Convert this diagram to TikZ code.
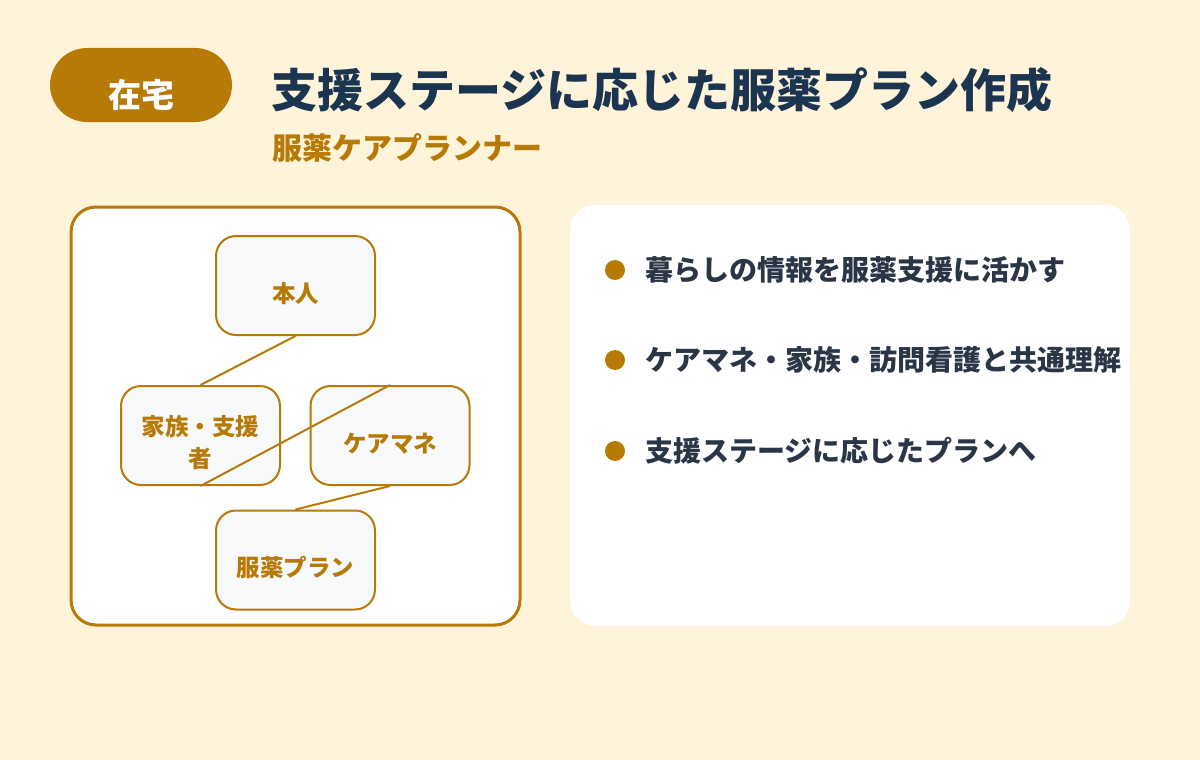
\documentclass[tikz,border=0pt]{standalone}
\usepackage{fontspec}
\setmainfont{Noto Sans CJK JP}
\usepackage{tikz}
\usetikzlibrary{positioning}
\definecolor{cbg}{HTML}{FFF4D9}
\definecolor{cgold}{HTML}{B77A06}
\definecolor{cnavy}{HTML}{1B3550}
\definecolor{ctext}{HTML}{2A3546}
\definecolor{cnode}{HTML}{F7F9FB}

\begin{document}
\begin{tikzpicture}[x=1pt,y=-1pt,
      font=\bfseries,
      panel/.style={rounded corners=25pt,fill=white},
      role/.style={draw=cgold,fill=cnode,line width=2pt,rounded corners=20pt,
                   minimum width=159pt,minimum height=99pt,align=center,
                   text width=130pt,text height=33pt,text depth=0pt,
                   text=cgold,font=\bfseries\fontsize{23.5}{32}\selectfont},
      dot/.style={circle,fill=cgold,minimum size=20pt,inner sep=0pt},
      item/.style={right=20pt of #1,inner sep=0pt,text=ctext,font=\bfseries\fontsize{28}{32}\selectfont},
      link/.style={draw=cgold,line width=2pt}]

    \useasboundingbox[fill=cbg] (0,0) rectangle (1200,760);

    % header
    \node[fill=cgold,rounded corners=37pt,minimum width=182pt,minimum height=74pt,inner sep=0pt,
          text height=44pt,text depth=0pt,
          text=white,font=\bfseries\fontsize{33}{38}\selectfont] (tag) at (141,85) {在宅};
    \node[anchor=west,inner sep=0pt,text=cnavy,font=\bfseries\fontsize{46}{52}\selectfont] (title) at (271,90) {支援ステージに応じた服薬プラン作成};
    \node[anchor=west,inner sep=0pt,text=cgold,font=\bfseries\fontsize{30}{34}\selectfont] (sub) at (272,148) {服薬ケアプランナー};

    % left panel
    \draw[panel,draw=cgold,line width=3pt] (71,207) rectangle (520,625);
    \node[role] (self) at (295.5,285.5) {本人};
    \node[role,text height=16pt,text depth=17pt] (family) at (200.5,435.5) {家族・支援\\者};
    \node[role] (cm) at (390,435.5) {ケアマネ};
    \node[role] (plan) at (295.5,560) {服薬プラン};

    \draw[link] (self.south) -- (family.north);
    \draw[link] (cm.north) -- (family.south);
    \draw[link] (cm.south) -- (plan.north);

    % right panel
    \fill[panel] (570,205) rectangle (1130,626);
    \node[dot] (d1) at (615,270) {};
    \node[dot] (d2) at (615,360) {};
    \node[dot] (d3) at (615,451) {};
    \node[item=d1] (t1) {暮らしの情報を服薬支援に活かす};
    \node[item=d2] (t2) {ケアマネ・家族・訪問看護と共通理解};
    \node[item=d3] (t3) {支援ステージに応じたプランへ};
  \end{tikzpicture}
\end{document}
